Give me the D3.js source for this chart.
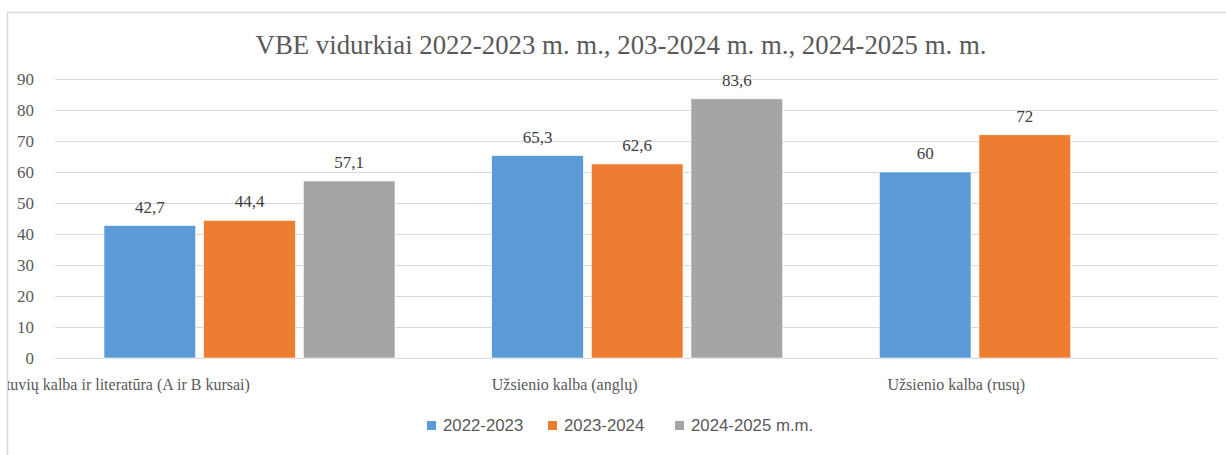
<!DOCTYPE html>
<html>
<head>
<meta charset="utf-8">
<script src="https://cdn.jsdelivr.net/npm/d3@7"></script>
<style>
  body { margin: 0; background: #fff; }
  svg { display: block; }
</style>
</head>
<body>
<div id="chart"></div>
<script>
const categories = [
  "Lietuvių kalba ir literatūra (A ir B kursai)",
  "Užsienio kalba (anglų)",
  "Užsienio kalba (rusų)"
];
const seriesNames = ["2022-2023", "2023-2024", "2024-2025 m.m."];
const values2022 = [42.7, 65.3, 60];
const values2023 = [44.4, 62.6, 72];
const values2024 = [57.1, 83.6, null];
const colors = ["#5B9BD5", "#ED7D31", "#A5A5A5"];
const yTicks = [0, 10, 20, 30, 40, 50, 60, 70, 80, 90];
const title = "VBE vidurkiai 2022-2023 m. m., 203-2024 m. m., 2024-2025 m. m.";

const width = 1226, height = 455;
const plot = { left: 55, right: 1218, top: 79, bottom: 358 };
const serif = "'Liberation Serif', 'DejaVu Serif', serif";
const sans = "'Liberation Sans', Arial, sans-serif";

const svg = d3.select("#chart").append("svg")
  .attr("width", width)
  .attr("height", height);

// the original chart is cropped: its frame starts at x=8
svg.append("clipPath").attr("id", "frame")
  .append("rect")
  .attr("x", 8).attr("y", 13)
  .attr("width", width).attr("height", height);

svg.append("path")
  .attr("d", `M7.5,${height} V12.5 H${width}`)
  .attr("fill", "none")
  .attr("stroke", "#d9d9d9")
  .attr("stroke-width", 1.5);

svg.append("text")
  .attr("x", 621)
  .attr("y", 54)
  .attr("text-anchor", "middle")
  .style("font-family", serif)
  .style("font-size", "26.8px")
  .style("fill", "#595959")
  .text(title);

const x = d3.scaleBand().domain(categories).range([plot.left, plot.right]);
const xInner = d3.scaleBand().domain(seriesNames)
  .range([49, 340]).paddingInner(0.08);
const y = d3.scaleLinear().domain([0, 90]).range([plot.bottom, plot.top]);

// gridlines
svg.append("g")
  .selectAll("line")
  .data(yTicks)
  .join("line")
  .attr("x1", plot.left)
  .attr("x2", plot.right)
  .attr("y1", d => Math.round(y(d)) + 0.5)
  .attr("y2", d => Math.round(y(d)) + 0.5)
  .attr("stroke", "#d9d9d9")
  .attr("stroke-width", 1.2);

// y axis labels
svg.append("g")
  .selectAll("text")
  .data(yTicks)
  .join("text")
  .attr("x", 34)
  .attr("y", d => y(d))
  .attr("dy", "0.35em")
  .attr("text-anchor", "end")
  .style("font-family", serif)
  .style("font-size", "17px")
  .style("fill", "#595959")
  .text(d => d);

const series = [values2022, values2023, values2024];
const rows = [];
series.forEach((vals, si) => {
  vals.forEach((v, ci) => {
    if (v != null) rows.push({ s: seriesNames[si], c: categories[ci], v, color: colors[si] });
  });
});

svg.append("g")
  .selectAll("rect")
  .data(rows)
  .join("rect")
  .attr("x", d => x(d.c) + xInner(d.s))
  .attr("y", d => y(d.v))
  .attr("width", xInner.bandwidth())
  .attr("height", d => y(0) - y(d.v))
  .attr("fill", d => d.color)
  .attr("stroke", "#fff")
  .attr("stroke-width", 0.6);

svg.append("g")
  .selectAll("text")
  .data(rows)
  .join("text")
  .attr("x", d => x(d.c) + xInner(d.s) + xInner.bandwidth() / 2)
  .attr("y", d => y(d.v) - 13)
  .attr("text-anchor", "middle")
  .style("font-family", serif)
  .style("font-size", "17px")
  .style("fill", "#404040")
  .text(d => String(d.v).replace(".", ","));

// category labels, right-aligned at the band centre
svg.append("g")
  .attr("clip-path", "url(#frame)")
  .selectAll("text")
  .data(categories)
  .join("text")
  .attr("x", d => x(d) + x.bandwidth() / 2 + 1)
  .attr("y", 390)
  .attr("text-anchor", "end")
  .style("font-family", serif)
  .style("font-size", "16px")
  .style("fill", "#595959")
  .text(d => d);

// legend
const legendX = [427, 548, 675];
const legend = svg.append("g")
  .selectAll("g")
  .data(seriesNames)
  .join("g")
  .attr("transform", (d, i) => `translate(${legendX[i]},425)`);
legend.append("rect")
  .attr("x", 0).attr("y", -4)
  .attr("width", 9).attr("height", 9)
  .attr("fill", (d, i) => colors[i]);
legend.append("text")
  .attr("x", 16)
  .attr("y", 0)
  .attr("dy", "0.35em")
  .style("font-family", sans)
  .style("font-size", "16.8px")
  .style("fill", "#595959")
  .text(d => d);
</script>
</body>
</html>
